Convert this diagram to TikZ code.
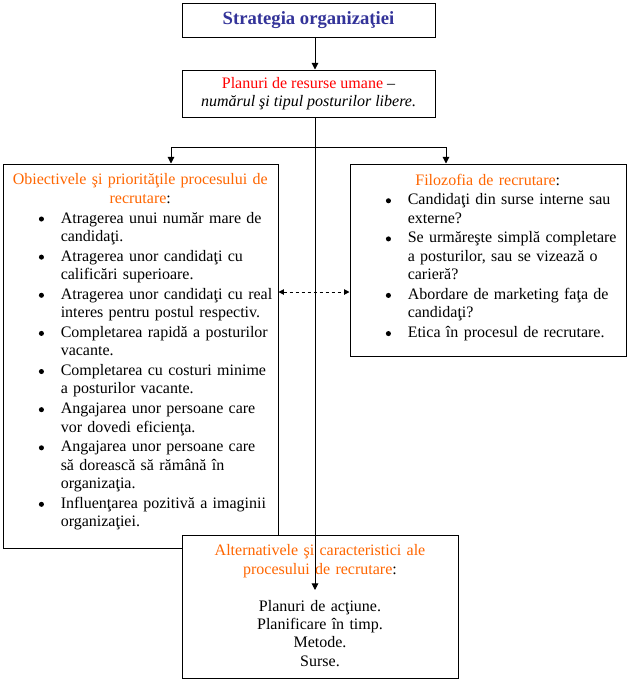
\documentclass[tikz,border=0pt]{standalone}
\usepackage{fontspec}
\setmainfont{Liberation Serif}
\usepackage{enumitem}
\usetikzlibrary{arrows.meta}
\definecolor{titleblue}{HTML}{333399}
\definecolor{planred}{HTML}{FF0000}
\definecolor{orng}{HTML}{FF6600}
\newcommand{\dotbul}{\raisebox{1.1pt}{\tikz\fill (0,0) circle (1.9pt);}}
\setlist[itemize]{label=\dotbul, leftmargin=43.5pt, labelsep=12.6pt, itemsep=1pt,
  topsep=1pt, parsep=0pt, partopsep=0pt, rightmargin=-30pt}
\tikzset{
  box/.style={draw, fill=white, line width=0.75pt, inner sep=0pt},
  txt/.style={inner sep=0pt, align=left, font=\fontsize{12}{13.8}\selectfont},
  arr/.style={-{Triangle[length=5pt,width=5pt]}, line width=0.75pt},
  dasharr/.style={{Triangle[length=4pt,width=4pt]}-{Triangle[length=4pt,width=4pt]},
    line width=0.75pt, dash pattern=on 2.25pt off 2.25pt}
}
\begin{document}
\begin{tikzpicture}[x=0.75pt,y=-0.75pt]
\useasboundingbox (0,0) rectangle (630,683);
% boxes
\node[box, minimum width=189.75pt, minimum height=25.5pt, font=\fontsize{14}{16}\selectfont\bfseries,
  text=titleblue] (strat) at (308.5,20) {Strategia organizaţiei};
\node[box, minimum width=189.75pt, minimum height=35.25pt, align=center,
  font=\fontsize{12}{13.8}\selectfont] (plan) at (308.5,93.5)
  {\textcolor{planred}{Planuri de resurse umane} --\\ \textit{numărul şi tipul posturilor libere.}};
\node[box, minimum width=206.25pt, minimum height=288pt] (obj) at (140.5,356) {};
\node[box, minimum width=207pt, minimum height=144pt] (filo) at (488,260) {};
\node[box, minimum width=207pt, minimum height=107.25pt] (alt) at (320,606.5) {};
% texts
\node[txt, text width=206.25pt, anchor=north west] (objtxt) at ([yshift=-7.5pt]obj.north west)
  {{\centering\textcolor{orng}{Obiectivele şi priorităţile procesului de\\ recrutare}:\par}
  \begin{itemize}
    \item Atragerea unui număr mare de\\ candidaţi.
    \item Atragerea unor candidaţi cu\\ calificări superioare.
    \item Atragerea unor candidaţi cu real\\ interes pentru postul respectiv.
    \item Completarea rapidă a posturilor\\ vacante.
    \item Completarea cu costuri minime\\ a posturilor vacante.
    \item Angajarea unor persoane care\\ vor dovedi eficienţa.
    \item Angajarea unor persoane care\\ să dorească să rămână în\\ organizaţia.
    \item Influenţarea pozitivă a imaginii\\ organizaţiei.
  \end{itemize}};
\node[txt, text width=207pt, anchor=north west] (filotxt) at ([yshift=-7.5pt]filo.north west)
  {{\centering\textcolor{orng}{Filozofia de recrutare}:\par}
  \begin{itemize}
    \item Candidaţi din surse interne sau\\ externe?
    \item Se urmăreşte simplă completare\\ a posturilor, sau se vizează o\\ carieră?
    \item Abordare de marketing faţa de\\ candidaţi?
    \item Etica în procesul de recrutare.
  \end{itemize}};
\node[txt, text width=207pt, align=center, anchor=north] (alttxt) at ([yshift=-7.5pt]alt.north)
  {\textcolor{orng}{Alternativele şi caracteristici ale\\ procesului de recrutare}:\\[13.8pt]
  Planuri de acţiune.\\ Planificare în timp.\\ Metode.\\ Surse.};
% connectors
\coordinate (sp) at (315,0);
\coordinate (fork) at (315,147);
\coordinate (altin) at (315,590);
\coordinate (objin) at (171,0);
\coordinate (filoin) at (446,0);
\coordinate (dl) at (0,292);
\draw[arr] (strat.south -| sp) -- (plan.north -| sp);
\draw[arr] (plan.south -| sp) -- (altin);
\draw[arr] (fork) -| (obj.north -| objin);
\draw[arr] (fork) -| (filo.north -| filoin);
\draw[dasharr] (obj.east |- dl) -- (filo.west |- dl);
\end{tikzpicture}
\end{document}
